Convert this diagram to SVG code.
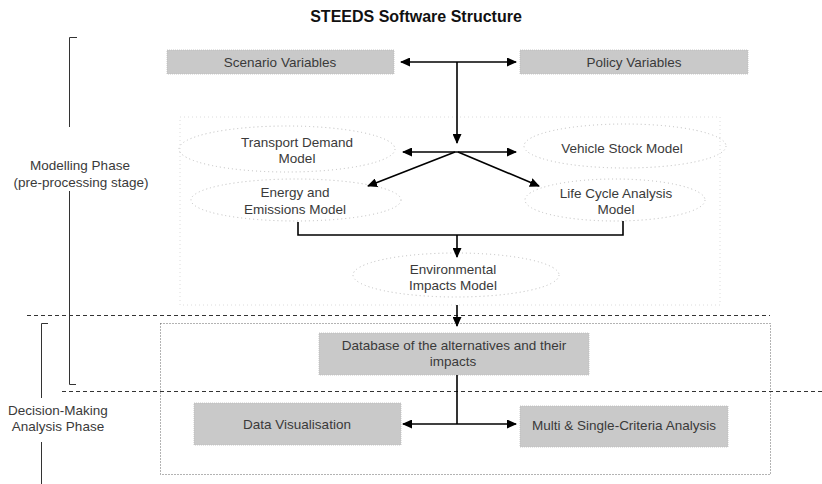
<svg xmlns="http://www.w3.org/2000/svg" width="822" height="484" viewBox="0 0 822 484">
<style>
text{font-family:"Liberation Sans",Arial,sans-serif;font-size:13.5px;fill:#3a3a3a;text-anchor:middle}
.title{font-size:16px;font-weight:bold;fill:#111}
.box{fill:#c9c9c9;stroke:#bdbdbd;stroke-width:0.8;stroke-dasharray:1 1}
.ell{fill:none;stroke:#bcbcbc;stroke-width:1;stroke-dasharray:1 3}
.con{fill:none;stroke:#000;stroke-width:1.6}
.br{fill:none;stroke:#333;stroke-width:1}
.dash{fill:none;stroke:#333;stroke-width:1;stroke-dasharray:4 3}
</style>
<defs>
<marker id="ah" markerUnits="userSpaceOnUse" markerWidth="10" markerHeight="9" refX="9" refY="4.5" orient="auto-start-reverse">
<path d="M0,0 L10,4.5 L0,9 Z" fill="#000"/>
</marker>
</defs>
<rect width="822" height="484" fill="#fff"/>
<text class="title" x="416" y="22">STEEDS Software Structure</text>

<g id="frames">
<rect x="180" y="117" width="540" height="188" fill="none" stroke="#dcdcdc" stroke-width="1" stroke-dasharray="1 3"/>
<rect x="160.5" y="323.5" width="610" height="151" fill="none" stroke="#666" stroke-width="1" stroke-dasharray="1 2"/>
<line class="dash" x1="27" y1="315.5" x2="770" y2="315.5"/>
<line class="dash" x1="62" y1="391.5" x2="822" y2="391.5"/>
</g>

<g id="phase-modelling">
<path class="br" d="M77,37.5 H69.5 V127 M69.5,191 V384.5 H76"/>
<text x="80" y="170">Modelling Phase</text>
<text x="81" y="187">(pre-processing stage)</text>
</g>
<g id="phase-decision">
<path class="br" d="M48,323.5 H41.5 V398 M41.5,442 V484"/>
<text x="58" y="415">Decision-Making</text>
<text x="58" y="431">Analysis Phase</text>
</g>

<g id="scenario">
<rect class="box" x="167" y="50" width="227" height="24"/>
<text x="280" y="67">Scenario Variables</text>
</g>
<g id="policy">
<rect class="box" x="520" y="50" width="228" height="24"/>
<text x="634" y="67">Policy Variables</text>
</g>
<g id="transport">
<ellipse class="ell" cx="287" cy="149" rx="108" ry="23"/>
<text x="297" y="147">Transport Demand</text>
<text x="297" y="163">Model</text>
</g>
<g id="vehicle">
<ellipse class="ell" cx="625" cy="146" rx="101" ry="22"/>
<text x="622" y="153">Vehicle Stock Model</text>
</g>
<g id="energy">
<ellipse class="ell" cx="296" cy="200" rx="105" ry="21"/>
<text x="295" y="197">Energy and</text>
<text x="295" y="214">Emissions Model</text>
</g>
<g id="lifecycle">
<ellipse class="ell" cx="615" cy="200" rx="90" ry="21"/>
<text x="616" y="198">Life Cycle Analysis</text>
<text x="616" y="214">Model</text>
</g>
<g id="environmental">
<ellipse class="ell" cx="456" cy="275" rx="103" ry="22"/>
<text x="453" y="274">Environmental</text>
<text x="453" y="290">Impacts Model</text>
</g>
<g id="database">
<rect class="box" x="319" y="333" width="270" height="42"/>
<text x="454" y="350">Database of the alternatives and their</text>
<text x="453" y="366">impacts</text>
</g>
<g id="datavis">
<rect class="box" x="194" y="403" width="207" height="42"/>
<text x="297" y="429">Data Visualisation</text>
</g>
<g id="mcda">
<rect class="box" x="520" y="406" width="208" height="41"/>
<text x="624" y="430">Multi &amp; Single-Criteria Analysis</text>
</g>

<g id="connectors">
<line class="con" x1="401" y1="62" x2="516" y2="62" marker-start="url(#ah)" marker-end="url(#ah)"/>
<line class="con" x1="457" y1="62" x2="457" y2="143" marker-end="url(#ah)"/>
<line class="con" x1="403" y1="152" x2="516" y2="152" marker-start="url(#ah)" marker-end="url(#ah)"/>
<line class="con" x1="455" y1="152" x2="368" y2="186" marker-end="url(#ah)"/>
<line class="con" x1="458" y1="152" x2="539" y2="186" marker-end="url(#ah)"/>
<path class="con" d="M298,222 V235 H623 V221"/>
<line class="con" x1="457" y1="235" x2="457" y2="257" marker-end="url(#ah)"/>
<line class="con" x1="457" y1="305" x2="457" y2="326" marker-end="url(#ah)"/>
<line class="con" x1="457" y1="375" x2="457" y2="424"/>
<line class="con" x1="403" y1="424" x2="516" y2="424" marker-start="url(#ah)" marker-end="url(#ah)"/>
</g>
</svg>
